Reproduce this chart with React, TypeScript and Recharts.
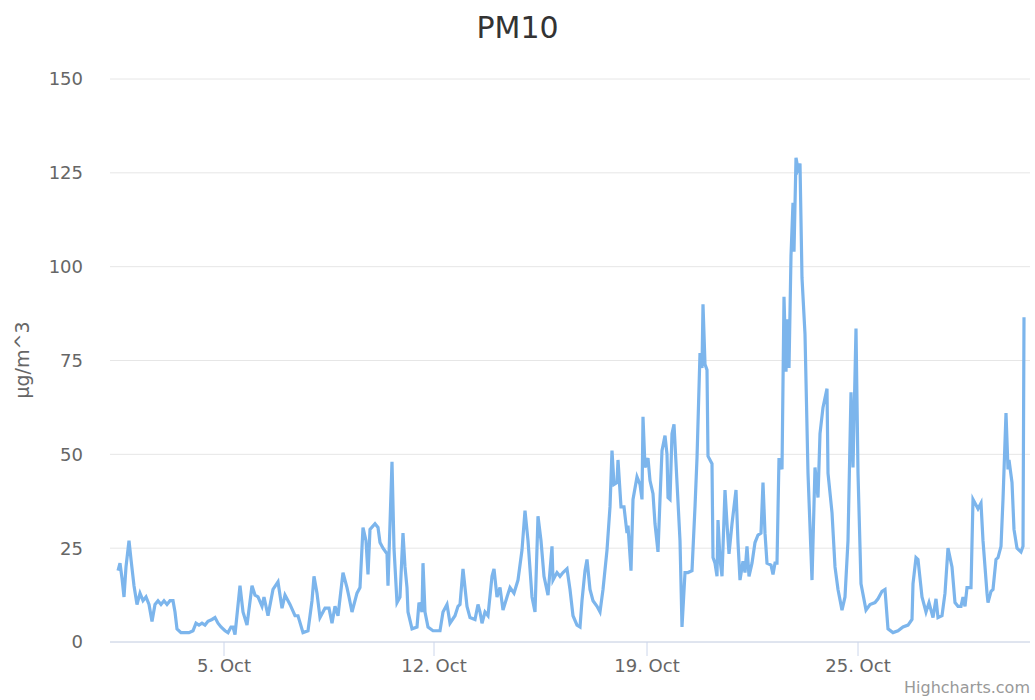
import { CartesianGrid, Line, LineChart, XAxis, YAxis } from "recharts";

// sample slot along the (ordinal) time axis, and PM10 reading in µg/m^3
const slots = [
  8, 10, 12, 14, 16, 19, 21, 24, 27, 30, 33, 36, 39, 42, 45, 48, 51, 54, 57, 60,
  63, 65, 67, 71, 75, 79, 83, 86, 89, 92, 95, 98, 102, 105, 108, 111, 115, 118, 121, 123,
  125, 130, 133, 137, 142, 145, 148, 152, 154, 158, 163, 168, 172, 175, 180, 185, 188, 193, 198, 202,
  204, 207, 210, 215, 219, 222, 225, 228, 233, 237, 239, 242, 247, 250, 253, 256, 258, 260, 265, 268,
  270, 273, 277, 278, 282, 284, 287, 290, 293, 295, 297, 298, 302, 307, 309, 312, 313, 315, 318, 323,
  330, 333, 337, 340, 345, 348, 350, 353, 357, 360, 365, 368, 370, 372, 375, 378, 382, 384, 387, 390,
  393, 397, 400, 404, 408, 412, 415, 418, 422, 425, 428, 431, 434, 438, 442, 443, 447, 450, 453, 457,
  460, 463, 467, 470, 472, 475, 477, 480, 483, 487, 490, 493, 497, 500, 502, 504, 507, 508, 511, 514,
  517, 518, 521, 523, 527, 530, 532, 533, 535, 538, 540, 543, 545, 548, 550, 552, 555, 557, 558, 560,
  562, 564, 567, 570, 572, 575, 578, 582, 585, 587, 590, 592, 593, 595, 597, 598, 602, 603, 605, 607,
  608, 610, 612, 615, 617, 619, 622, 626, 628, 630, 633, 635, 637, 639, 642, 645, 648, 651, 653, 655,
  657, 661, 663, 665, 667, 669, 672, 674, 676, 677, 679, 681, 683, 684, 686, 688, 690, 692, 695, 698,
  702, 705, 708, 710, 713, 717, 718, 722, 725, 728, 732, 735, 738, 741, 743, 746, 748, 751, 756, 760,
  765, 768, 772, 775, 778, 783, 788, 793, 798, 802, 803, 806, 808, 812, 816, 819, 823, 826, 828, 832,
  835, 838, 842, 845, 848, 851, 853, 855, 857, 861, 863, 866, 868, 871, 873, 877, 878, 881, 883, 886,
  888, 891, 893, 896, 898, 899, 902, 904, 907, 911, 913, 914
];

const pm10 = [
  19, 21, 17, 12, 20, 27, 22, 15, 10, 13, 11, 12, 10, 5.5, 10, 11, 10, 11, 10, 11,
  11, 8, 3.5, 2.5, 2.5, 2.5, 3, 5, 4.5, 5, 4.5, 5.5, 6, 6.5, 5, 4, 3, 2.5, 4, 4,
  2, 15, 8, 4.5, 15, 12.5, 12, 9.5, 12, 7, 14, 16, 9, 12.5, 10, 7, 7, 2.5, 3, 11,
  17.5, 13, 6.5, 9, 9, 5, 9.5, 7, 18.5, 14.5, 12, 8, 13, 14.5, 30.5, 27, 18, 30, 31.5, 30.5,
  26.5, 25, 23.5, 15, 48, 25, 10.5, 12, 29, 20, 14.5, 8, 3.5, 4, 10.5, 8, 21, 8, 4, 3,
  3, 8, 10, 5, 7, 9.5, 10, 19.5, 9.5, 6.5, 6, 10, 8, 5, 8, 7, 17.5, 19.5, 12, 14.5,
  8.5, 12, 14.5, 13, 16.5, 24.5, 35, 27, 12, 8, 33.5, 27, 17.5, 12.5, 25.5, 16.5, 18.5, 17.5, 18.5, 19.5,
  14, 7, 4.5, 4, 11, 19, 22, 14, 11, 9.5, 8, 14, 24.5, 36, 51, 42, 42.5, 48.5, 36, 36,
  29, 31, 19, 38, 44, 42, 38, 60, 46.5, 49, 43, 39.5, 31.5, 24, 38, 51, 55, 50, 38.5, 38,
  55.5, 58, 42.5, 27, 4, 18.5, 18.5, 19, 36, 49, 77, 73, 90, 74, 72.5, 49.5, 47.5, 22.5, 21, 17.5,
  32.5, 22, 17.5, 40.5, 31.5, 23.5, 31.5, 40.5, 26.5, 16.5, 21.5, 18.5, 25.5, 17.5, 21, 26.5, 28.5, 29, 42.5, 29,
  21, 20.5, 18, 21, 21, 49, 46, 92, 72, 86, 73, 103, 117, 104, 129, 126, 127.5, 97, 82, 45,
  16.5, 46.5, 38.5, 55.5, 62.5, 67.5, 45, 34.5, 20, 14, 8.5, 12, 27, 66.5, 46.5, 83.5, 45, 15.5, 8.5, 10,
  10.5, 11.5, 13.5, 14, 3.5, 2.5, 3, 4, 4.5, 6, 15.5, 22.5, 22, 12, 8, 10.5, 6.5, 11.5, 6.5, 7,
  13, 25, 20, 10.5, 9.5, 9.5, 12, 9.5, 14.5, 14.5, 38, 36.5, 35.5, 37, 27, 13, 10.5, 13.5, 14, 22,
  22.5, 25.5, 38, 61, 46, 48.5, 42.5, 30, 25, 24, 25.5, 86.5
];

const dateTickSlots = [114, 324, 537, 748];
const dateTickLabels = ["5. Oct", "12. Oct", "19. Oct", "25. Oct"];
const valueTicks = [0, 25, 50, 75, 100, 125, 150];

const chartData = slots.map((slot, i) => ({ slot, pm10: pm10[i] }));

const font = "'DejaVu Sans', sans-serif";

export default function App() {
  return (
    <div style={{ position: "absolute", left: 0, top: 0, width: 1035, height: 700, background: "#fff", fontFamily: font }}>
      <div style={{ position: "absolute", left: 0, width: 1035, top: 10, textAlign: "center", fontSize: 30, color: "#333" }}>
        PM10
      </div>
      <div
        style={{
          position: "absolute",
          left: 22,
          top: 360,
          transform: "translate(-50%, -50%) rotate(-90deg)",
          fontSize: 19,
          color: "#666",
          whiteSpace: "nowrap"
        }}
      >
        µg/m^3
      </div>
      <LineChart width={1035} height={700} data={chartData} margin={{ top: 79, right: 5, bottom: 28, left: 0 }}>
        <CartesianGrid vertical={false} stroke="#e6e6e6" />
        <XAxis
          dataKey="slot"
          type="number"
          domain={[0, 920]}
          ticks={dateTickSlots}
          tickFormatter={(v) => dateTickLabels[dateTickSlots.indexOf(v)] ?? ""}
          stroke="#ccd6eb"
          tickSize={14}
          tickMargin={3}
          tick={{ fill: "#666", fontSize: 18, fontFamily: font }}
          height={30}
        />
        <YAxis
          domain={[0, 150]}
          ticks={valueTicks}
          width={110}
          axisLine={false}
          tickLine={false}
          tickSize={0}
          tickMargin={27}
          tick={{ fill: "#666", fontSize: 18, fontFamily: font }}
        />
        <Line type="linear" dataKey="pm10" stroke="#7cb5ec" strokeWidth={3.2} dot={false} isAnimationActive={false} />
      </LineChart>
      <div style={{ position: "absolute", right: 5, top: 678, fontSize: 16, color: "#999" }}>Highcharts.com</div>
    </div>
  );
}
